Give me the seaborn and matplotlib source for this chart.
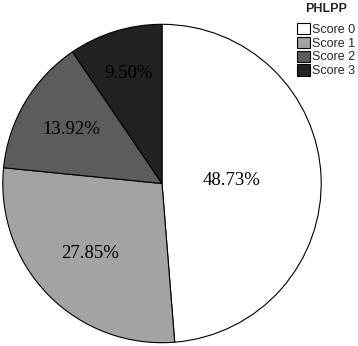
import numpy as np
import matplotlib
matplotlib.use("Agg")
import matplotlib.pyplot as plt
import seaborn as sns

# data
categories = ["Score 0", "Score 1", "Score 2", "Score 3"]
shares = [48.73, 27.85, 13.92, 9.50]
colors = ["#ffffff", "#a3a3a3", "#5c5c5c", "#222222"]
label_dist = [0.44, 0.63, 0.66, 0.72]

sns.set_theme(style="white")

fig = plt.figure(figsize=(3.58, 3.46), dpi=100)
ax = fig.add_axes([2 / 358, 2.5 / 346, 320 / 358, 320 / 346])

wedges, texts, pcts = ax.pie(
    shares, colors=colors, startangle=90, counterclock=False,
    autopct="%.2f%%", radius=1.0,
    wedgeprops=dict(edgecolor="black", linewidth=0.8),
    textprops=dict(family="Liberation Serif", fontsize=13.5, color="black"),
)

# move each percentage along the middle of its wedge
for w, t, d in zip(wedges, pcts, label_dist):
    mid = np.deg2rad((w.theta1 + w.theta2) / 2)
    t.set_position((d * np.cos(mid), d * np.sin(mid)))

ax.set_aspect("equal")
ax.set_xlim(-1.005, 1.005)
ax.set_ylim(-1.005, 1.005)
ax.axis("off")

leg = fig.legend(
    wedges, categories, title="PHLPP", loc="upper right",
    bbox_to_anchor=(1.0, 1.0), frameon=False,
    prop=dict(family="Liberation Sans", size=9),
    title_fontproperties=dict(family="Liberation Sans", size=9, weight="bold"),
    handlelength=1.05, handleheight=1.0, handletextpad=0.2,
    labelspacing=0.08, borderaxespad=0.1, borderpad=0.1,
)
leg._legend_box.sep = 6
for h in leg.legend_handles:
    h.set_edgecolor("black")
    h.set_linewidth(0.8)

fig.savefig("out.png", dpi=100)
